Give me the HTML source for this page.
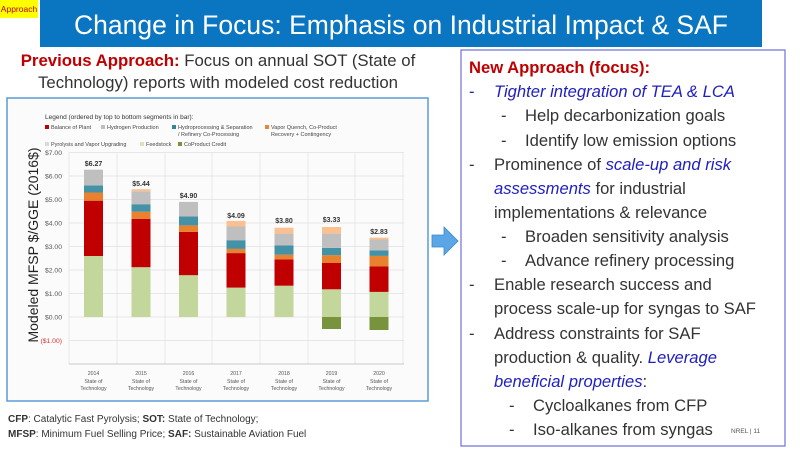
<!DOCTYPE html>
<html><head><meta charset="utf-8"><style>
html,body{margin:0;padding:0;background:#fff;}
body{width:800px;height:450px;overflow:hidden;position:relative;font-family:"Liberation Sans",sans-serif;}
</style></head><body>
<svg width="800" height="450" xmlns="http://www.w3.org/2000/svg" style="position:absolute;left:0;top:0" font-family="Liberation Sans, sans-serif">
<rect x="40" y="0" width="722" height="47" fill="#0a76c2"/>
<text x="401" y="34" font-size="26.5" fill="#fff" text-anchor="middle">Change in Focus: Emphasis on Industrial Impact &amp; SAF</text>
<rect x="0" y="0" width="38" height="18" fill="#ffff00"/>
<text x="19" y="12" font-size="8.5" fill="#c00000" text-anchor="middle">Approach</text>

<text x="218" y="66" font-size="16.8" fill="#333" text-anchor="middle"><tspan fill="#c00000" font-weight="bold">Previous Approach:</tspan> Focus on annual SOT (State of</text>
<text x="218" y="88" font-size="16.8" fill="#333" text-anchor="middle">Technology) reports with modeled cost reduction</text>

<rect x="7" y="98" width="421" height="303" fill="#fbfbfb" stroke="#5b9bd5" stroke-width="1.5"/>
<text x="45" y="119" font-size="6.5" fill="#333">Legend (ordered by top to bottom segments in bar):</text>
<g font-size="5.5" fill="#444">
<rect x="45" y="125" width="4" height="4" fill="#c00000"/><text x="51" y="129">Balance of Plant</text>
<rect x="101" y="125" width="4" height="4" fill="#bfbfbf"/><text x="107" y="129">Hydrogen Production</text>
<rect x="172" y="125" width="4" height="4" fill="#31859c"/><text x="178" y="129">Hydroprocessing &amp; Separation</text><text x="178" y="136">/ Refinery Co-Processing</text>
<rect x="265" y="125" width="4" height="4" fill="#e46c0a" opacity=".8"/><text x="271" y="129">Vapor Quench, Co-Product</text><text x="271" y="136">Recovery + Contingency</text>
<rect x="45" y="142" width="4" height="4" fill="#d9d9d9"/><text x="51" y="146">Pyrolysis and Vapor Upgrading</text>
<rect x="140" y="142" width="4" height="4" fill="#d7e4bd"/><text x="146" y="146">Feedstock</text>
<rect x="178" y="142" width="4" height="4" fill="#77933c"/><text x="184" y="146">CoProduct Credit</text>
</g>
<g stroke="#e0e0e0" stroke-width="0.7">
<line x1="69" y1="152.5" x2="404" y2="152.5"/><line x1="69" y1="176" x2="404" y2="176"/><line x1="69" y1="199.5" x2="404" y2="199.5"/><line x1="69" y1="223" x2="404" y2="223"/><line x1="69" y1="246.5" x2="404" y2="246.5"/><line x1="69" y1="270" x2="404" y2="270"/><line x1="69" y1="293.5" x2="404" y2="293.5"/><line x1="69" y1="317" x2="404" y2="317"/><line x1="69" y1="340.5" x2="404" y2="340.5"/>
<line x1="69" y1="152" x2="69" y2="364"/><line x1="117" y1="152" x2="117" y2="364"/><line x1="165" y1="152" x2="165" y2="364"/><line x1="212" y1="152" x2="212" y2="364"/><line x1="260" y1="152" x2="260" y2="364"/><line x1="308" y1="152" x2="308" y2="364"/><line x1="355" y1="152" x2="355" y2="364"/><line x1="403" y1="152" x2="403" y2="364"/>
<line x1="69" y1="364" x2="404" y2="364" stroke="#bbb"/>
</g>
<g font-size="6.8" fill="#555" text-anchor="end">
<text x="62" y="155">$7.00</text><text x="62" y="178.5">$6.00</text><text x="62" y="202">$5.00</text><text x="62" y="225.5">$4.00</text><text x="62" y="249">$3.00</text><text x="62" y="272.5">$2.00</text><text x="62" y="296">$1.00</text><text x="62" y="319.5">$0.00</text><text x="62" y="343" fill="#e03030">($1.00)</text>
</g>
<text transform="translate(38,245) rotate(-90)" font-size="14" fill="#222" text-anchor="middle">Modeled MFSP $/GGE (2016$)</text>
<g font-size="7" font-weight="bold" fill="#333" text-anchor="middle">
<text x="93.5" y="166">$6.27</text><text x="141" y="186">$5.44</text><text x="188.5" y="198">$4.90</text><text x="236" y="218">$4.09</text><text x="284" y="223">$3.80</text><text x="331.5" y="222">$3.33</text><text x="379" y="234">$2.83</text>
</g>
<g font-size="5.2" fill="#555" text-anchor="middle">
<text x="93.5" y="375">2014</text><text x="93.5" y="383">State of</text><text x="93.5" y="390">Technology</text>
<text x="141" y="375">2015</text><text x="141" y="383">State of</text><text x="141" y="390">Technology</text>
<text x="188.5" y="375">2016</text><text x="188.5" y="383">State of</text><text x="188.5" y="390">Technology</text>
<text x="236" y="375">2017</text><text x="236" y="383">State of</text><text x="236" y="390">Technology</text>
<text x="284" y="375">2018</text><text x="284" y="383">State of</text><text x="284" y="390">Technology</text>
<text x="331.5" y="375">2019</text><text x="331.5" y="383">State of</text><text x="331.5" y="390">Technology</text>
<text x="379" y="375">2020</text><text x="379" y="383">State of</text><text x="379" y="390">Technology</text>
</g>

<g font-size="10" fill="#333">
<text x="8" y="422"><tspan font-weight="bold">CFP</tspan>: Catalytic Fast Pyrolysis; <tspan font-weight="bold">SOT:</tspan> State of Technology;</text>
<text x="8" y="437"><tspan font-weight="bold">MFSP</tspan>: Minimum Fuel Selling Price; <tspan font-weight="bold">SAF:</tspan> Sustainable Aviation Fuel</text>
</g>

<path d="M432 235 h12 v-8 l14 14 l-14 14 v-8 h-12 z" fill="#5aa6e6" stroke="#3c86c8" stroke-width="0.8"/>

<rect x="461" y="50" width="324" height="396" fill="#fff" stroke="#6e6ee0" stroke-width="1.2"/>
<g font-size="16.6" fill="#333">
<text x="469" y="73" font-weight="bold" fill="#c00000">New Approach (focus):</text>
<text x="469" y="97" fill="#2020c0">-</text><text x="494" y="97" font-style="italic" fill="#2020c0">Tighter integration of TEA &amp; LCA</text>
<text x="501" y="121">-</text><text x="525" y="121">Help decarbonization goals</text>
<text x="501" y="146">-</text><text x="525" y="146">Identify low emission options</text>
<text x="469" y="170">-</text><text x="494" y="170">Prominence of <tspan font-style="italic" fill="#2020c0">scale-up and risk</tspan></text>
<text x="494" y="194"><tspan font-style="italic" fill="#2020c0">assessments</tspan> for industrial</text>
<text x="494" y="218">implementations &amp; relevance</text>
<text x="501" y="242">-</text><text x="525" y="242">Broaden sensitivity analysis</text>
<text x="501" y="266">-</text><text x="525" y="266">Advance refinery processing</text>
<text x="469" y="290">-</text><text x="494" y="290">Enable research success and</text>
<text x="494" y="314">process scale-up for syngas to SAF</text>
<text x="469" y="339">-</text><text x="494" y="339">Address constraints for SAF</text>
<text x="494" y="363">production &amp; quality. <tspan font-style="italic" fill="#2020c0">Leverage</tspan></text>
<text x="494" y="387"><tspan font-style="italic" fill="#2020c0">beneficial properties</tspan>:</text>
<text x="509" y="411">-</text><text x="533" y="411">Cycloalkanes from CFP</text>
<text x="509" y="435">-</text><text x="533" y="435">Iso-alkanes from syngas</text>
</g>
<text x="731" y="433" font-size="6.5" fill="#555">NREL   |   11</text>
</svg>
<svg width="800" height="450" style="position:absolute;left:0;top:0">
<g>
<rect x="84" y="256" width="19" height="61" fill="#c3d69b"/>
<rect x="84" y="200.7" width="19" height="55.3" fill="#c00000"/>
<rect x="84" y="192.5" width="19" height="8.2" fill="#e46c0a" opacity=".85"/>
<rect x="84" y="185.4" width="19" height="7.1" fill="#31859c" opacity=".9"/>
<rect x="84" y="169.7" width="19" height="15.7" fill="#bfbfbf"/>
<rect x="131.5" y="267.2" width="19" height="49.8" fill="#c3d69b"/>
<rect x="131.5" y="218.8" width="19" height="48.4" fill="#c00000"/>
<rect x="131.5" y="211.7" width="19" height="7.1" fill="#e46c0a" opacity=".85"/>
<rect x="131.5" y="204.2" width="19" height="7.5" fill="#31859c" opacity=".9"/>
<rect x="131.5" y="191.3" width="19" height="12.9" fill="#bfbfbf"/>
<rect x="131.5" y="189.2" width="19" height="2.1" fill="#fac090"/>
<rect x="179" y="275.2" width="19" height="41.8" fill="#c3d69b"/>
<rect x="179" y="231.9" width="19" height="43.3" fill="#c00000"/>
<rect x="179" y="225.4" width="19" height="6.5" fill="#e46c0a" opacity=".85"/>
<rect x="179" y="216.4" width="19" height="9" fill="#31859c" opacity=".9"/>
<rect x="179" y="201.9" width="19" height="14.5" fill="#bfbfbf"/>
<rect x="226.5" y="287.6" width="19" height="29.4" fill="#c3d69b"/>
<rect x="226.5" y="253.1" width="19" height="34.5" fill="#c00000"/>
<rect x="226.5" y="248.9" width="19" height="4.2" fill="#e46c0a" opacity=".85"/>
<rect x="226.5" y="240.2" width="19" height="8.7" fill="#31859c" opacity=".9"/>
<rect x="226.5" y="226.5" width="19" height="13.7" fill="#bfbfbf"/>
<rect x="226.5" y="220.9" width="19" height="5.6" fill="#fac090"/>
<rect x="274.5" y="285.7" width="19" height="31.3" fill="#c3d69b"/>
<rect x="274.5" y="259.4" width="19" height="26.3" fill="#c00000"/>
<rect x="274.5" y="254.7" width="19" height="4.7" fill="#e46c0a" opacity=".85"/>
<rect x="274.5" y="245.3" width="19" height="9.4" fill="#31859c" opacity=".9"/>
<rect x="274.5" y="233.6" width="19" height="11.7" fill="#bfbfbf"/>
<rect x="274.5" y="227.7" width="19" height="5.9" fill="#fac090"/>
<rect x="322" y="317" width="19" height="12" fill="#77933c"/>
<rect x="322" y="289.3" width="19" height="27.7" fill="#c3d69b"/>
<rect x="322" y="263" width="19" height="26.3" fill="#c00000"/>
<rect x="322" y="255.2" width="19" height="7.8" fill="#e46c0a" opacity=".85"/>
<rect x="322" y="247.9" width="19" height="7.3" fill="#31859c" opacity=".9"/>
<rect x="322" y="233.6" width="19" height="14.3" fill="#bfbfbf"/>
<rect x="322" y="227" width="19" height="6.6" fill="#fac090"/>
<rect x="369.5" y="317" width="19" height="13" fill="#77933c"/>
<rect x="369.5" y="291.9" width="19" height="25.1" fill="#c3d69b"/>
<rect x="369.5" y="266.5" width="19" height="25.4" fill="#c00000"/>
<rect x="369.5" y="255.9" width="19" height="10.6" fill="#e46c0a" opacity=".85"/>
<rect x="369.5" y="250.3" width="19" height="5.6" fill="#31859c" opacity=".9"/>
<rect x="369.5" y="239.5" width="19" height="10.8" fill="#bfbfbf"/>
<rect x="369.5" y="237.6" width="19" height="1.9" fill="#fac090"/>
</g>
</svg>
</body></html>
